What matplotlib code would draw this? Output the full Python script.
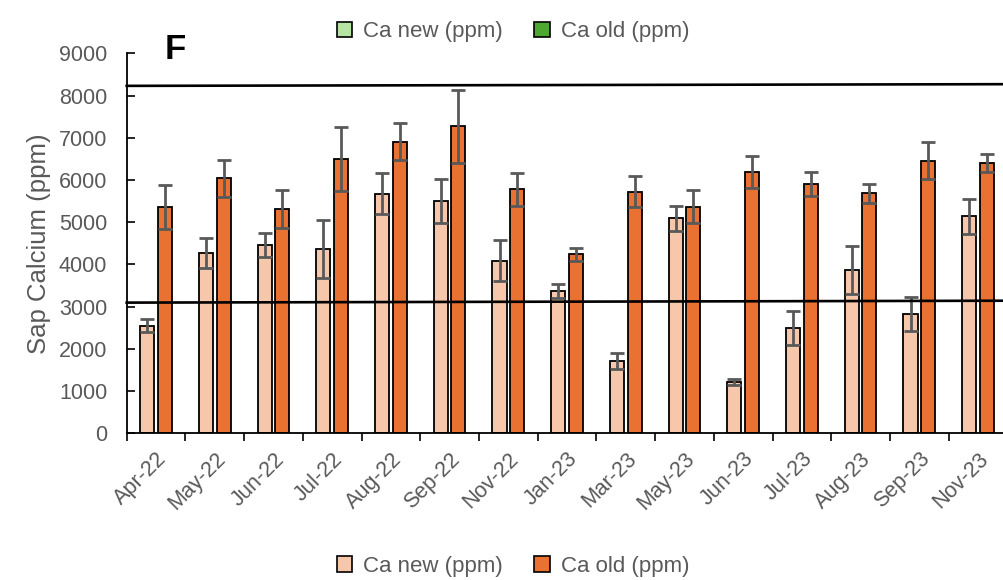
import numpy as np
import matplotlib
matplotlib.use("Agg")
import matplotlib.pyplot as plt
from matplotlib.patches import Patch

plt.rcParams['font.family'] = ['Liberation Sans', 'DejaVu Sans']

# Monthly sap calcium means and standard errors (ppm)
months = ['Apr-22', 'May-22', 'Jun-22', 'Jul-22', 'Aug-22', 'Sep-22', 'Nov-22',
          'Jan-23', 'Mar-23', 'May-23', 'Jun-23', 'Jul-23', 'Aug-23', 'Sep-23', 'Nov-23']
ca_new = [2550, 4270, 4460, 4360, 5680, 5500, 4090, 3365, 1720, 5095, 1225, 2495, 3865, 2820, 5140]
ca_new_err = [150, 350, 290, 690, 490, 525, 480, 170, 190, 300, 70, 400, 575, 400, 415]
ca_old = [5360, 6045, 5315, 6500, 6910, 7270, 5780, 4235, 5725, 5365, 6185, 5910, 5685, 6455, 6405]
ca_old_err = [525, 440, 450, 750, 435, 860, 395, 165, 365, 395, 380, 280, 230, 435, 215]

# Reference lines drawn across the panel (left end, right end)
upper_ref = [8230, 8270]
lower_ref = [3095, 3140]

light_color = '#F7C7AC'
dark_color = '#E97132'
label_gray = '#595959'

fig = plt.figure(figsize=(10.04, 5.8), dpi=100)
ax = fig.add_axes([0.1262, 0.253, 0.8772, 0.655])

x = np.arange(len(months))
w = 0.24
err_kw = dict(ecolor=label_gray, elinewidth=2, capsize=4.7, capthick=2)
ax.bar(x - 0.15, ca_new, w, yerr=ca_new_err, color=light_color,
       edgecolor='black', linewidth=1.3, error_kw=err_kw, zorder=2)
ax.bar(x + 0.15, ca_old, w, yerr=ca_old_err, color=dark_color,
       edgecolor='black', linewidth=1.3, error_kw=err_kw, zorder=2)

ax.set_xlim(-0.5, len(months) - 0.5)
ax.set_ylim(0, 9000)
ax.set_yticks(range(0, 9001, 1000))

# boundary ticks on the category axis, labels centred on each group
ax.set_xticks(np.arange(len(months) + 1) - 0.5)
ax.set_xticklabels([])
ax.set_xticks(x, minor=True)
ax.set_xticklabels(months, minor=True, rotation=45, ha='right', va='top',
                   rotation_mode='anchor', color=label_gray, fontsize=15.5)
ax.tick_params(axis='x', which='major', direction='out', length=6, width=1.2)
ax.tick_params(axis='x', which='minor', length=0, pad=11)
ax.tick_params(axis='y', which='major', direction='in', length=6, width=1.2,
               pad=14, labelcolor=label_gray, labelsize=15.5)

for side in ['top', 'right']:
    ax.spines[side].set_visible(False)
for side in ['left', 'bottom']:
    ax.spines[side].set_linewidth(1.3)

ax.set_ylabel('Sap Calcium (ppm)', color=label_gray, fontsize=18.5, labelpad=6)

ax.plot([-0.5, len(months) - 0.5], upper_ref, color='black', lw=1.9,
        clip_on=False, zorder=3)
ax.plot([-0.5, len(months) - 0.5], lower_ref, color='black', lw=1.9,
        clip_on=False, zorder=3)

fig.text(0.164, 0.915, 'F', fontsize=25, fontweight='bold', va='center')

legend_kw = dict(ncol=2, frameon=False, fontsize=16, handlelength=0.7,
                 handleheight=0.7, handletextpad=0.5, columnspacing=1.4,
                 labelcolor=label_gray, loc='center')
top_handles = [Patch(facecolor='#B4E5A2', edgecolor='black', lw=1.2),
               Patch(facecolor='#4EA72E', edgecolor='black', lw=1.2)]
fig.legend(top_handles, ['Ca new (ppm)', 'Ca old (ppm)'],
           bbox_to_anchor=(0.511, 0.945), **legend_kw)
bottom_handles = [Patch(facecolor=light_color, edgecolor='black', lw=1.2),
                  Patch(facecolor=dark_color, edgecolor='black', lw=1.2)]
fig.legend(bottom_handles, ['Ca new (ppm)', 'Ca old (ppm)'],
           bbox_to_anchor=(0.511, 0.024), **legend_kw)

fig.savefig('out.png', dpi=100)
